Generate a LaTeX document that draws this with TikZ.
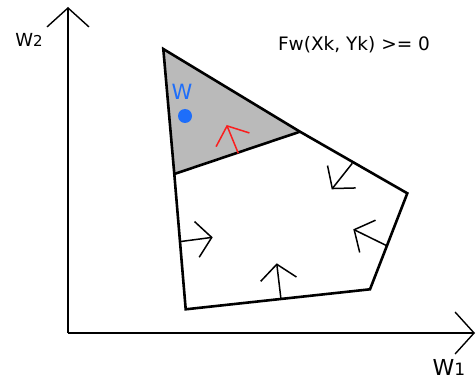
\documentclass[tikz,border=0pt]{standalone}
\usepackage{fontspec}
\setmainfont{DejaVu Sans}
\usepackage{tikz}
\usetikzlibrary{arrows.meta}
\definecolor{wblue}{RGB}{30,110,250}
\definecolor{wred}{RGB}{250,30,30}
\definecolor{wgray}{RGB}{186,186,186}

\begin{document}
\begin{tikzpicture}[x=1pt, y=-1pt,
  axis/.style={line width=1.4pt, -{Straight Barb[length=19pt, width=42pt, line width=1.4pt]}},
  edge/.style={line width=2.6pt, line join=miter},
  normal/.style={line width=1.5pt, -{Straight Barb[length=15pt, width=36pt, line width=1.5pt]}},
  lbl/.style={inner sep=0pt}]
\useasboundingbox (0,0) rectangle (476,382);
% axes
\coordinate (o) at (68,333);
\draw[axis] (o) -- (68,7);
\draw[axis] (o) -- (475,333);
\node[lbl] (w2) at (29,40) {\fontsize{18}{18}\selectfont W\fontsize{15}{15}\selectfont 2};
\node[lbl] (w1) at (449,367) {\fontsize{22}{22}\selectfont W\fontsize{17}{17}\selectfont 1};
\node[lbl] (cond) at (354,45) {\fontsize{18.5}{18.5}\selectfont Fw(Xk, Yk) >= 0};
% feasible polygon
\coordinate (p1) at (163.3,49);
\coordinate (p2) at (300,131.7);
\coordinate (p3) at (407.3,193.3);
\coordinate (p4) at (370,289.3);
\coordinate (p5) at (185.7,309.3);
\coordinate (p6) at (174.3,174);
\fill[wgray] (p1) -- (p2) -- (p6) -- cycle;
\draw[edge] (p1) -- (p2) -- (p3) -- (p4) -- (p5) -- (p6) -- cycle;
\draw[edge] (p6) -- (p2);
% normals
\draw[normal, wred] (238.3,153.3) -- (226.7,125);
\draw[normal] (352.3,163.3) -- (331.7,189.3);
\draw[normal] (387.3,246) -- (353.3,229.3);
\draw[normal] (281,299.3) -- (276.7,263.3);
\draw[normal] (179.3,241.7) -- (212.7,237.3);
% current point
\fill[wblue] (185,116) circle (7pt);
\node[lbl, text=wblue] (wlab) at (182,92) {\fontsize{21}{21}\selectfont W};
\end{tikzpicture}
\end{document}
